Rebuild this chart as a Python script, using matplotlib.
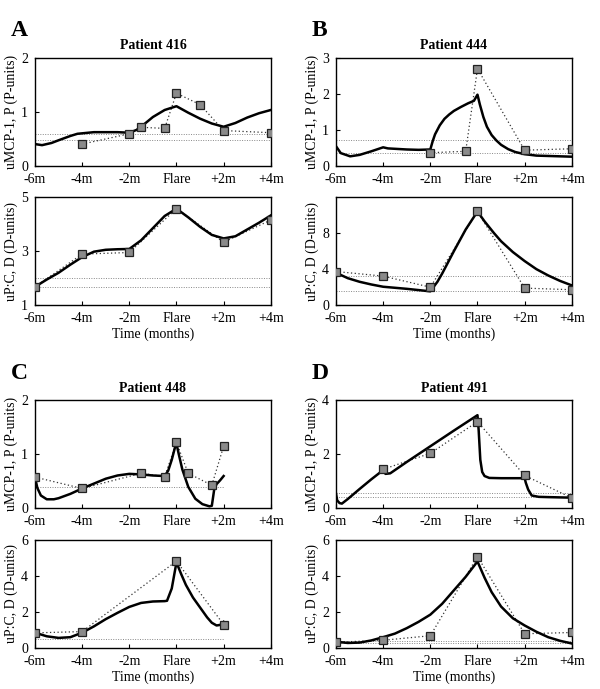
import matplotlib
matplotlib.use("Agg")
import matplotlib.pyplot as plt

plt.rcParams["font.family"] = ["Liberation Serif", "DejaVu Serif"]

XTICKS = [-6, -4, -2, 0, 2, 4]
XTICKLABELS = ["-6m", "-4m", "-2m", "Flare", "+2m", "+4m"]

# ── Patient 416 ──────────────────────────────────────────────
a_p_obs_x = [-4, -2, -1.5, -0.5, 0, 1, 2, 4]
a_p_obs_y = [0.40, 0.59, 0.71, 0.69, 1.34, 1.13, 0.65, 0.61]
a_p_fit_x = [-6, -5.7, -5.3, -5, -4.5, -4.2, -3.5, -3, -2.5, -2, -1.7, -1.5, -1, -0.5, 0,
             0.5, 1, 1.5, 2, 2.5, 3, 3.5, 4]
a_p_fit_y = [0.40, 0.38, 0.42, 0.47, 0.55, 0.59, 0.62, 0.62, 0.62, 0.61, 0.66, 0.72, 0.90, 1.03, 1.10,
             0.98, 0.87, 0.78, 0.72, 0.79, 0.89, 0.97, 1.03]
a_p_ref = [0.58, 0.47]

a_d_obs_x = [-6, -4, -2, 0, 2, 4]
a_d_obs_y = [1.68, 2.89, 2.95, 4.57, 3.33, 4.15]
a_d_fit_x = [-6, -5.5, -5, -4.5, -4, -3.5, -3, -2.5, -2, -1.5, -1, -0.5, 0,
             0.5, 1, 1.5, 2, 2.5, 3, 3.5, 4]
a_d_fit_y = [1.68, 1.95, 2.2, 2.5, 2.78, 2.98, 3.05, 3.07, 3.08, 3.4, 3.85, 4.3, 4.57,
             4.25, 3.9, 3.6, 3.47, 3.55, 3.8, 4.05, 4.32]
a_d_ref = [2.01, 1.68]

# ── Patient 444 ──────────────────────────────────────────────
b_p_obs_x = [-2, -0.5, 0, 2, 4]
b_p_obs_y = [0.36, 0.40, 2.69, 0.43, 0.47]
b_p_fit_x = [-6, -5.8, -5.4, -5, -4.5, -4, -3.8, -3, -2.5, -2, -1.9, -1.8, -1.6, -1.4, -1.2, -1,
             -0.7, -0.4, -0.15, 0, 0.1, 0.25, 0.4, 0.6, 0.8, 1, 1.3, 1.6, 2, 2.5, 3, 4]
b_p_fit_y = [0.54, 0.35, 0.26, 0.30, 0.40, 0.51, 0.48, 0.45, 0.44, 0.45, 0.68, 0.87, 1.12, 1.3, 1.42, 1.52,
             1.63, 1.73, 1.80, 1.97, 1.70, 1.35, 1.08, 0.85, 0.70, 0.58, 0.46, 0.38, 0.32, 0.28, 0.27, 0.25]
b_p_ref = [0.70, 0.35]

b_d_obs_x = [-6, -4, -2, 0, 2, 4]
b_d_obs_y = [3.74, 3.23, 2.0, 10.4, 1.9, 1.72]
b_d_fit_x = [-6, -5.5, -5, -4.5, -4, -3, -2.5, -2, -1.7, -1.5, -1, -0.5, 0,
             0.3, 0.7, 1, 1.5, 2, 2.5, 3, 3.5, 4]
b_d_fit_y = [3.6, 3.0, 2.6, 2.3, 2.05, 1.82, 1.68, 1.54, 2.6, 3.5, 6.0, 8.4, 10.4,
             9.3, 8.0, 7.1, 5.9, 4.9, 4.0, 3.3, 2.7, 2.2]
b_d_ref = [3.27, 1.6]

# ── Patient 448 ──────────────────────────────────────────────
c_p_obs_x = [-6, -4, -1.5, -0.5, 0, 0.5, 1.5, 2]
c_p_obs_y = [0.58, 0.37, 0.65, 0.59, 1.22, 0.65, 0.43, 1.15]
c_p_fit_x = [-6, -5.9, -5.75, -5.5, -5.2, -5, -4.5, -4, -3.5, -3, -2.5, -2, -1.5, -1, -0.5,
             -0.35, -0.2, -0.05, 0, 0.1, 0.25, 0.5, 0.8, 1.1, 1.4, 1.5, 1.6, 1.7, 1.85, 2]
c_p_fit_y = [0.58, 0.38, 0.24, 0.17, 0.17, 0.19, 0.27, 0.37, 0.46, 0.55, 0.61, 0.64, 0.63, 0.61, 0.60,
             0.70, 0.90, 1.15, 1.20, 1.00, 0.72, 0.40, 0.18, 0.08, 0.04, 0.05, 0.35, 0.45, 0.52, 0.60]
c_p_ref = [0.40]

c_d_obs_x = [-6, -4, 0, 2]
c_d_obs_y = [0.84, 0.91, 4.82, 1.30]
c_d_fit_x = [-6, -5.5, -5, -4.5, -4, -3.5, -3, -2.5, -2, -1.5, -1, -0.5, -0.4,
             -0.2, 0, 0.2, 0.4, 0.7, 1, 1.3, 1.5, 1.7, 1.85, 2]
c_d_fit_y = [0.85, 0.65, 0.56, 0.6, 0.85, 1.2, 1.6, 1.95, 2.28, 2.5, 2.58, 2.6, 2.62,
             3.3, 4.75, 4.1, 3.5, 2.8, 2.25, 1.7, 1.4, 1.25, 1.28, 1.45]
c_d_ref = [0.50]

# ── Patient 491 ──────────────────────────────────────────────
d_p_obs_x = [-4, -2, 0, 2, 4]
d_p_obs_y = [1.45, 2.04, 3.21, 1.22, 0.39]
d_p_fit_x = [-6, -5.95, -5.85, -5.75, -5.5, -5, -4.5, -4, -3.9, -3.7, -3, -2, -1, 0,
             0.05, 0.12, 0.2, 0.3, 0.5, 1, 1.5, 2, 2.05, 2.15, 2.3, 2.6, 3, 4]
d_p_fit_y = [0.55, 0.3, 0.2, 0.18, 0.35, 0.72, 1.08, 1.42, 1.28, 1.3, 1.72, 2.3, 2.88, 3.45,
             2.9, 1.8, 1.35, 1.2, 1.13, 1.12, 1.12, 1.12, 0.95, 0.7, 0.48, 0.43, 0.42, 0.40]
d_p_ref = [0.58, 0.43]

d_d_obs_x = [-6, -4, -2, 0, 2, 4]
d_d_obs_y = [0.32, 0.43, 0.68, 5.07, 0.79, 0.86]
d_d_fit_x = [-6, -5.5, -5, -4.5, -4, -3.5, -3, -2.5, -2, -1.5, -1, -0.5, 0,
             0.3, 0.6, 1, 1.5, 2, 2.5, 3, 3.5, 4]
d_d_fit_y = [0.35, 0.28, 0.3, 0.42, 0.6, 0.8, 1.1, 1.45, 1.85, 2.45, 3.2, 3.95, 4.8,
             3.9, 3.1, 2.3, 1.65, 1.25, 0.9, 0.6, 0.4, 0.25]
d_d_ref = [0.38, 0.30]

panels = [
    # letter, title, x0, y0 of lower axes, upper panel, lower panel
    ("A", "Patient 416", 0.0583, 0.557,
     (a_p_obs_x, a_p_obs_y, a_p_fit_x, a_p_fit_y, a_p_ref, (0, 2), [0, 1, 2], 4),
     (a_d_obs_x, a_d_obs_y, a_d_fit_x, a_d_fit_y, a_d_ref, (1, 5), [1, 3, 5], 4)),
    ("B", "Patient 444", 0.56, 0.557,
     (b_p_obs_x, b_p_obs_y, b_p_fit_x, b_p_fit_y, b_p_ref, (0, 3), [0, 1, 2, 3], 4),
     (b_d_obs_x, b_d_obs_y, b_d_fit_x, b_d_fit_y, b_d_ref, (0, 12), [0, 4, 8], 4)),
    ("C", "Patient 448", 0.0583, 0.0595,
     (c_p_obs_x, c_p_obs_y, c_p_fit_x, c_p_fit_y, c_p_ref, (0, 2), [0, 1, 2], 2),
     (c_d_obs_x, c_d_obs_y, c_d_fit_x, c_d_fit_y, c_d_ref, (0, 6), [0, 2, 4, 6], 2)),
    ("D", "Patient 491", 0.56, 0.0595,
     (d_p_obs_x, d_p_obs_y, d_p_fit_x, d_p_fit_y, d_p_ref, (0, 4), [0, 2, 4], 4),
     (d_d_obs_x, d_d_obs_y, d_d_fit_x, d_d_fit_y, d_d_ref, (0, 6), [0, 2, 4, 6], 4)),
]

fig = plt.figure(figsize=(6, 6.89), dpi=100)
W, H = 0.393, 0.157
GAP = 0.0455


def draw(ax, obs_x, obs_y, fit_x, fit_y, refs, ylim, yticks, ref_end, ylabel):
    for r in refs:
        ax.plot([-6, ref_end], [r, r], color="#888888", lw=0.7, ls=(0, (1, 1.5)), zorder=1)
    ax.plot(obs_x, obs_y, color="#333333", lw=0.9, ls=(0, (1, 2)), zorder=2)
    ax.plot(fit_x, fit_y, color="black", lw=1.8, zorder=3)
    ax.plot(obs_x, obs_y, ls="none", marker="s", ms=5.5, mfc="#8a8a8a", mec="#222222",
            mew=0.9, zorder=4)
    ax.set_xlim(-6, 4)
    ax.set_ylim(*ylim)
    ax.set_xticks(XTICKS)
    ax.set_xticklabels(XTICKLABELS)
    ax.set_yticks(yticks)
    ax.tick_params(direction="in", length=3, labelsize=10, width=0.8)
    ax.tick_params(axis="x", pad=5)
    ax.tick_params(axis="y", pad=5)
    ax.set_ylabel(ylabel, fontsize=10, labelpad=2)
    for s in ax.spines.values():
        s.set_linewidth(1.0)


for letter, title, x0, y0, top, bot in panels:
    ax_b = fig.add_axes([x0, y0, W, H])
    ax_t = fig.add_axes([x0, y0 + H + GAP, W, H])
    draw(ax_t, *top, "uMCP-1, P (P-units)")
    draw(ax_b, *bot, "uP:C, D (D-units)")
    ax_b.set_xlabel("Time (months)", fontsize=10, labelpad=2)
    ax_t.set_title(title, fontsize=10, fontweight="bold", pad=6)
    fig.text(x0 - 0.04, y0 + 2 * H + GAP + 0.024, letter, fontsize=17, fontweight="bold",
             ha="left", va="bottom")

fig.savefig("out.png", dpi=100)
